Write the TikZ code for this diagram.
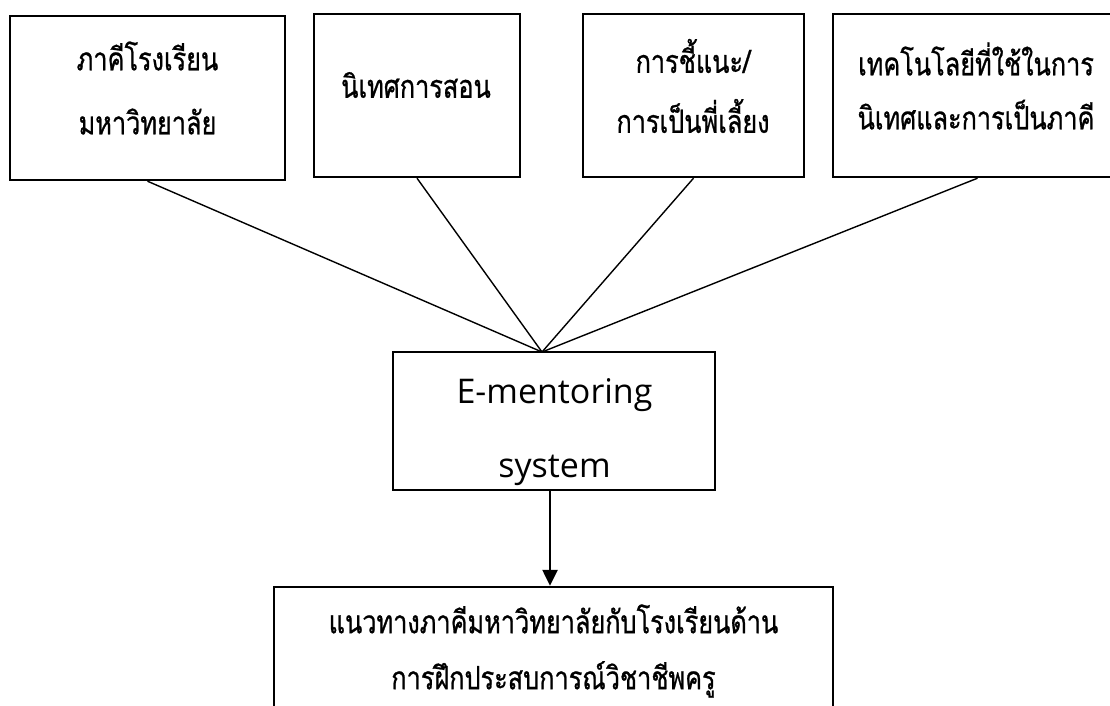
\documentclass[tikz,border=0pt]{standalone}
\usepackage{fontspec}
\usetikzlibrary{arrows.meta}
\newfontfamily\thaifont[Script=Thai, FakeStretch=0.79, FakeBold=0.8]{Loma}
\newfontfamily\latinfont{Open Sans}
\begin{document}
\begin{tikzpicture}[x=1pt,y=-1pt,
  box/.style={draw, line width=2.4pt, inner sep=0pt},
  lbl/.style={align=center, inner sep=0pt, font=\thaifont\fontsize{32}{64}\selectfont},
  latinlbl/.style={align=center, inner sep=0pt, font=\latinfont\fontsize{34}{74}\selectfont},
  link/.style={line width=1.4pt},
  flow/.style={line width=2.4pt, -{Triangle[width=15pt,length=16pt]}}]
\useasboundingbox (0,0) rectangle (1110,706);
\clip (0,0) rectangle (1110,706);

% four input boxes along the top
\node[box, minimum width=275pt, minimum height=164pt] (b1) at (147.5,98) {};
\node[box, minimum width=206pt, minimum height=163pt] (b2) at (417,95.5) {};
\node[box, minimum width=221pt, minimum height=163pt] (b3) at (693.5,95.5) {};
\node[box, minimum width=289pt, minimum height=163pt] (b4) at (977.5,95.5) {};

\node[lbl] (t1) at (147.5,88) {ภาคีโรงเรียน\\มหาวิทยาลัย};
\node[lbl] (t2) at (416,85) {นิเทศการสอน};
\node[lbl, font=\thaifont\fontsize{32}{60}\selectfont] (t3) at (693,86) {การชี้แนะ/\\การเป็นพี่เลี้ยง};
\node[lbl, font=\thaifont\fontsize{32}{54}\selectfont] (t4) at (976,86) {เทคโนโลยีที่ใช้ในการ\\นิเทศและการเป็นภาคี};

% central system box
\node[box, minimum width=322pt, minimum height=138pt] (cb) at (554,421) {};
\node[latinlbl] (ct) at (554.5,432) {E-mentoring\\system};

% outcome box, running past the lower edge
\node[box, minimum width=559pt, minimum height=160pt] (bb) at (553.5,667) {};
\node[lbl, font=\thaifont\fontsize{32}{56}\selectfont] (bt) at (553.5,651) {แนวทางภาคีมหาวิทยาลัยกับโรงเรียนด้าน\\การฝึกประสบการณ์วิชาชีพครู};

% connectors
\coordinate (hub) at (542,352);
\coordinate (ax) at (550,0);
\foreach \b in {b1,b2,b3,b4}
  \draw[link] (\b.south) -- (hub);
\draw[flow] (cb.south -| ax) -- (bb.north -| ax);
\end{tikzpicture}
\end{document}
